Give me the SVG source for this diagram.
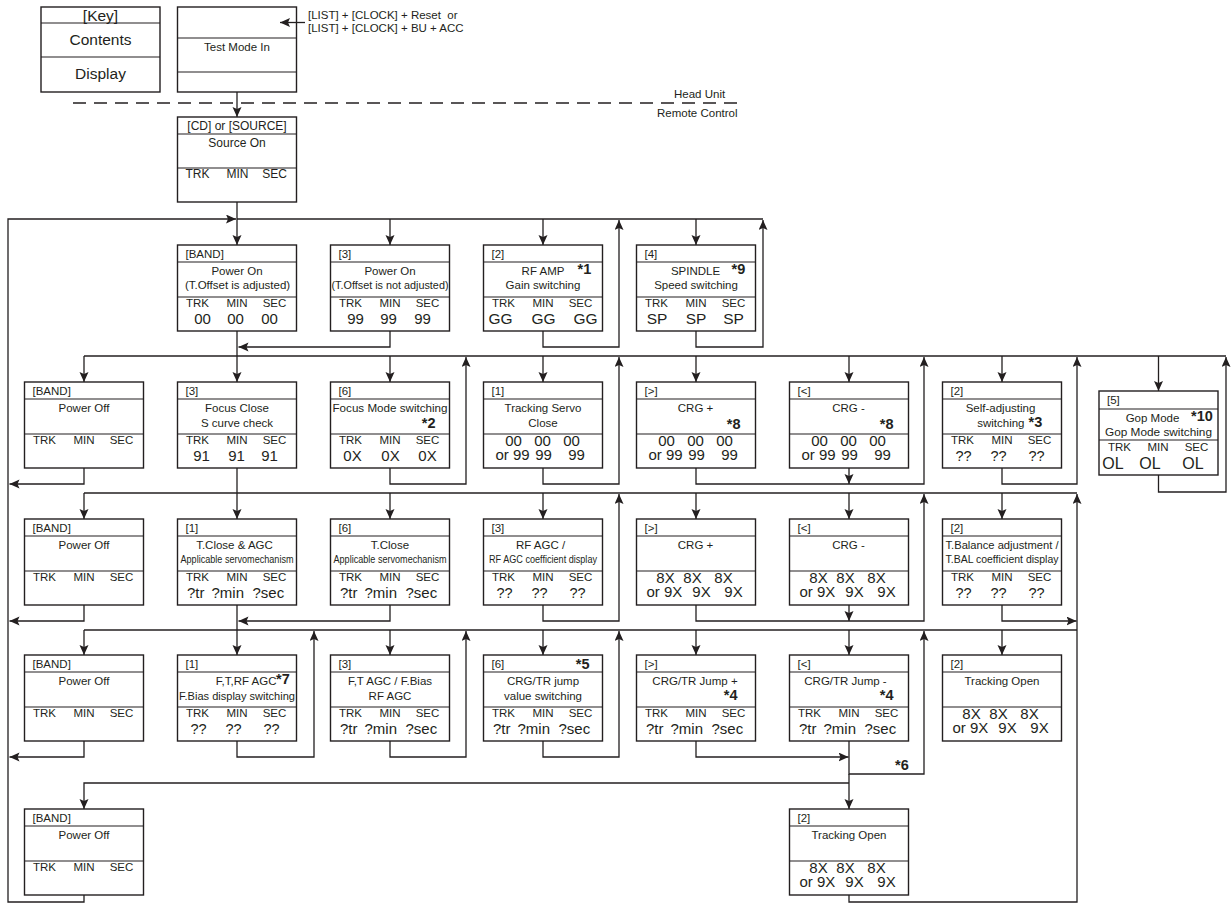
<svg xmlns="http://www.w3.org/2000/svg" xmlns:xlink="http://www.w3.org/1999/xlink" width="1231" height="903" viewBox="0 0 1231 903">
<style>
.bx{fill:#fff;stroke:#231f20;stroke-width:1.4}
.dv{stroke:#231f20;stroke-width:1.2;fill:none}
.cn path{stroke:#231f20;stroke-width:1.3;fill:none}
.cn .ar{marker-end:url(#ah)}
.dash{stroke:#231f20;stroke-width:1.3;stroke-dasharray:13 8;fill:none}
text{font-family:"Liberation Sans",Arial,Helvetica,sans-serif;fill:#231f20}
.h{font-size:11.5px}
.m{font-size:11.5px;text-anchor:middle}
.c{font-size:11px;text-anchor:middle}
.l{font-size:11.5px;text-anchor:middle}
.v{font-size:15px;text-anchor:middle}
.vs{font-size:15px}
.q{font-size:14.5px;text-anchor:middle}
.st{font-size:14.5px;font-weight:bold}
.ste{font-size:14.5px;font-weight:bold;text-anchor:end}
.k{font-size:15.5px;text-anchor:middle}
.sm{font-size:11.5px}
</style>
<defs>
<marker id="ah" markerUnits="userSpaceOnUse" markerWidth="12" markerHeight="12" refX="10" refY="4.5" orient="auto">
<path d="M0,0 L10,4.5 L0,9 L2,4.5 z" fill="#231f20"/>
</marker>
<g id="fr"><rect class="bx" x="0" y="0" width="119" height="86"/><path class="dv" d="M0,17H119M0,52H119"/></g>
<g id="tms"><text class="l" x="20" y="62">TRK</text><text class="l" x="59.5" y="62">MIN</text><text class="l" x="97" y="62">SEC</text></g>
<g id="v0099"><text class="v" x="30" y="64">00</text><text class="v" x="59" y="64">00</text><text class="v" x="88" y="64">00</text><text class="vs" x="12" y="78">or 99</text><text class="v" x="60" y="78">99</text><text class="v" x="93" y="78">99</text></g>
<g id="v89"><text class="v" x="29" y="64">8X</text><text class="v" x="56" y="64">8X</text><text class="v" x="87" y="64">8X</text><text class="vs" x="10" y="78">or 9X</text><text class="v" x="65" y="78">9X</text><text class="v" x="97" y="78">9X</text></g>
<g id="vtr"><text class="vs" x="9.5" y="79">?tr</text><text class="vs" x="34" y="79">?min</text><text class="vs" x="75" y="79">?sec</text></g>
<g id="vq"><text class="q" x="21" y="79">??</text><text class="q" x="56" y="79">??</text><text class="q" x="94" y="79">??</text></g>
</defs>
<rect x="0" y="0" width="1231" height="903" fill="#fff"/>

<path class="dash" d="M73,103H743"/>
<text class="sm" x="674" y="98">Head Unit</text>
<text class="sm" x="657" y="117">Remote Control</text>
<text class="st" x="895" y="770">*6</text>
<g id="input-keys">
<text class="sm" x="308" y="19" xml:space="preserve">[LIST] + [CLOCK] + Reset  or</text>
<text class="sm" x="308" y="31.5">[LIST] + [CLOCK] + BU + ACC</text>
</g>

<!-- key -->
<g id="key" transform="translate(41,7)">
<rect class="bx" width="119" height="85"/><path class="dv" d="M0,16H119M0,50H119"/>
<text class="k" x="59.5" y="13.5">[Key]</text>
<text class="k" x="59.5" y="38">Contents</text>
<text class="k" x="59.5" y="72">Display</text>
</g>
<g id="test-mode-in" transform="translate(177.5,7)">
<rect class="bx" width="119" height="85"/><path class="dv" d="M0,31H119M0,65H119"/>
<text class="m" x="59.5" y="44">Test Mode In</text>
</g>
<g id="source-on" transform="translate(177.5,117)">
<rect class="bx" width="119" height="85"/><path class="dv" d="M0,17H119M0,51H119"/>
<text class="m" x="59.5" y="13" style="font-size:12px">[CD] or [SOURCE]</text>
<text class="m" x="59.5" y="30" style="font-size:12px">Source On</text>
<text class="l" x="20" y="61" style="font-size:12px">TRK</text><text class="l" x="60" y="61" style="font-size:12px">MIN</text><text class="l" x="97" y="61" style="font-size:12px">SEC</text>
</g>

<!-- row 1 -->
<g id="power-on-adj" transform="translate(177.5,245)">
<use xlink:href="#fr"/><text class="h" x="8" y="13">[BAND]</text>
<text class="m" x="59.5" y="30">Power On</text><text class="m" x="60" y="44">(T.Offset is adjusted)</text>
<use xlink:href="#tms"/>
<text class="v" x="25" y="79">00</text><text class="v" x="58" y="79">00</text><text class="v" x="92" y="79">00</text>
</g>
<g id="power-on-notadj" transform="translate(330.5,245)">
<use xlink:href="#fr"/><text class="h" x="8" y="13">[3]</text>
<text class="m" x="59.5" y="30">Power On</text><text class="m" x="59.5" y="44" textLength="117" lengthAdjust="spacingAndGlyphs">(T.Offset is not adjusted)</text>
<use xlink:href="#tms"/>
<text class="v" x="25" y="79">99</text><text class="v" x="58" y="79">99</text><text class="v" x="92" y="79">99</text>
</g>
<g id="rf-amp" transform="translate(483.5,245)">
<use xlink:href="#fr"/><text class="h" x="8" y="13">[2]</text>
<text class="m" x="59.5" y="30">RF AMP</text><text class="st" x="94" y="29">*1</text>
<text class="m" x="59.5" y="44">Gain switching</text>
<use xlink:href="#tms"/>
<text class="v" x="17" y="79" style="font-size:15.5px">GG</text><text class="v" x="60" y="79" style="font-size:15.5px">GG</text><text class="v" x="102" y="79" style="font-size:15.5px">GG</text>
</g>
<g id="spindle" transform="translate(636.5,245)">
<use xlink:href="#fr"/><text class="h" x="8" y="13">[4]</text>
<text class="m" x="59" y="30">SPINDLE</text><text class="st" x="95" y="29">*9</text>
<text class="m" x="59.5" y="44">Speed switching</text>
<use xlink:href="#tms"/>
<text class="v" x="20.5" y="79" style="font-size:15.5px">SP</text><text class="v" x="59.5" y="79" style="font-size:15.5px">SP</text><text class="v" x="97" y="79" style="font-size:15.5px">SP</text>
</g>

<!-- row 2 -->
<g id="power-off-2" transform="translate(24.5,382)">
<use xlink:href="#fr"/><text class="h" x="8" y="13">[BAND]</text>
<text class="m" x="59.5" y="30">Power Off</text><use xlink:href="#tms"/>
</g>
<g id="focus-close" transform="translate(177.5,382)">
<use xlink:href="#fr"/><text class="h" x="8" y="13">[3]</text>
<text class="m" x="59.5" y="30">Focus Close</text><text class="m" x="59.5" y="45">S curve check</text>
<use xlink:href="#tms"/>
<text class="v" x="24" y="79">91</text><text class="v" x="59" y="79">91</text><text class="v" x="92" y="79">91</text>
</g>
<g id="focus-mode" transform="translate(330.5,382)">
<use xlink:href="#fr"/><text class="h" x="8" y="13">[6]</text>
<text class="m" x="59.5" y="30" textLength="115" lengthAdjust="spacingAndGlyphs">Focus Mode switching</text><text class="ste" x="105" y="46">*2</text>
<use xlink:href="#tms"/>
<text class="v" x="22" y="79">0X</text><text class="v" x="60" y="79">0X</text><text class="v" x="97" y="79">0X</text>
</g>
<g id="tracking-servo" transform="translate(483.5,382)">
<use xlink:href="#fr"/><text class="h" x="8" y="13">[1]</text>
<text class="m" x="59.5" y="30">Tracking Servo</text><text class="m" x="59.5" y="45">Close</text>
<use xlink:href="#v0099"/>
</g>
<g id="crg-plus-2" transform="translate(636.5,382)">
<use xlink:href="#fr"/><text class="h" x="8" y="13">[&gt;]</text>
<text class="m" x="59" y="30">CRG +</text><text class="ste" x="104" y="47">*8</text>
<use xlink:href="#v0099"/>
</g>
<g id="crg-minus-2" transform="translate(789.5,382)">
<use xlink:href="#fr"/><text class="h" x="8" y="13">[&lt;]</text>
<text class="m" x="59" y="30">CRG -</text><text class="ste" x="104" y="47">*8</text>
<use xlink:href="#v0099"/>
</g>
<g id="self-adjusting" transform="translate(942.5,382)">
<use xlink:href="#fr"/><text class="h" x="8" y="13">[2]</text>
<text class="m" x="58" y="30">Self-adjusting</text><text class="h" x="82" y="45" text-anchor="end">switching</text><text class="st" x="86" y="45">*3</text>
<use xlink:href="#tms"/><use xlink:href="#vq"/>
</g>
<g id="gop-mode" transform="translate(1099,391)">
<rect class="bx" width="119" height="84"/><path class="dv" d="M0,18H119M0,49H119"/>
<text class="h" x="8" y="13">[5]</text>
<text class="m" x="53.5" y="31">Gop Mode</text><text class="st" x="92" y="30">*10</text>
<text class="m" x="59.5" y="45" textLength="107" lengthAdjust="spacingAndGlyphs">Gop Mode switching</text>
<text class="l" x="20.5" y="60">TRK</text><text class="l" x="59" y="60">MIN</text><text class="l" x="97.5" y="60">SEC</text>
<text class="v" x="14" y="78" style="font-size:16px">OL</text><text class="v" x="51" y="78" style="font-size:16px">OL</text><text class="v" x="94" y="78" style="font-size:16px">OL</text>
</g>

<!-- row 3 -->
<g id="power-off-3" transform="translate(24.5,519)">
<use xlink:href="#fr"/><text class="h" x="8" y="13">[BAND]</text>
<text class="m" x="59.5" y="30">Power Off</text><use xlink:href="#tms"/>
</g>
<g id="tclose-agc" transform="translate(177.5,519)">
<use xlink:href="#fr"/><text class="h" x="8" y="13">[1]</text>
<text class="m" x="57" y="30">T.Close &amp; AGC</text><text class="c" x="59.5" y="44" textLength="113" lengthAdjust="spacingAndGlyphs">Applicable servomechanism</text>
<use xlink:href="#tms"/><use xlink:href="#vtr"/>
</g>
<g id="tclose" transform="translate(330.5,519)">
<use xlink:href="#fr"/><text class="h" x="8" y="13">[6]</text>
<text class="m" x="59.5" y="30">T.Close</text><text class="c" x="59.5" y="44" textLength="113" lengthAdjust="spacingAndGlyphs">Applicable servomechanism</text>
<use xlink:href="#tms"/><use xlink:href="#vtr"/>
</g>
<g id="rf-agc" transform="translate(483.5,519)">
<use xlink:href="#fr"/><text class="h" x="8" y="13">[3]</text>
<text class="m" x="57" y="30">RF AGC /</text><text class="c" x="59.5" y="44" textLength="108" lengthAdjust="spacingAndGlyphs">RF AGC coefficient display</text>
<use xlink:href="#tms"/><use xlink:href="#vq"/>
</g>
<g id="crg-plus-3" transform="translate(636.5,519)">
<use xlink:href="#fr"/><text class="h" x="8" y="13">[&gt;]</text>
<text class="m" x="59" y="30">CRG +</text><use xlink:href="#v89"/>
</g>
<g id="crg-minus-3" transform="translate(789.5,519)">
<use xlink:href="#fr"/><text class="h" x="8" y="13">[&lt;]</text>
<text class="m" x="59" y="30">CRG -</text><use xlink:href="#v89"/>
</g>
<g id="t-balance" transform="translate(942.5,519)">
<use xlink:href="#fr"/><text class="h" x="8" y="13">[2]</text>
<text class="m" x="59.5" y="30" textLength="113" lengthAdjust="spacingAndGlyphs">T.Balance adjustment /</text><text class="c" x="59.5" y="44" textLength="113" lengthAdjust="spacingAndGlyphs">T.BAL coefficient display</text>
<use xlink:href="#tms"/><use xlink:href="#vq"/>
</g>

<!-- row 4 -->
<g id="power-off-4" transform="translate(24.5,655)">
<use xlink:href="#fr"/><text class="h" x="8" y="13">[BAND]</text>
<text class="m" x="59.5" y="30">Power Off</text><use xlink:href="#tms"/>
</g>
<g id="ftrf-agc" transform="translate(177.5,655)">
<use xlink:href="#fr"/><text class="h" x="8" y="13">[1]</text>
<text class="h" x="99" y="30" text-anchor="end">F,T,RF AGC</text><text class="st" x="98.5" y="29">*7</text>
<text class="m" x="59.5" y="45" textLength="116" lengthAdjust="spacingAndGlyphs">F.Bias display switching</text>
<use xlink:href="#tms"/><use xlink:href="#vq"/>
</g>
<g id="ft-agc-fbias" transform="translate(330.5,655)">
<use xlink:href="#fr"/><text class="h" x="8" y="13">[3]</text>
<text class="m" x="59.5" y="30">F,T AGC / F.Bias</text><text class="m" x="59.5" y="45">RF AGC</text>
<use xlink:href="#tms"/><use xlink:href="#vtr"/>
</g>
<g id="jump-value" transform="translate(483.5,655)">
<use xlink:href="#fr"/><text class="h" x="8" y="13">[6]</text><text class="ste" x="106" y="14">*5</text>
<text class="m" x="59.5" y="30">CRG/TR jump</text><text class="m" x="59.5" y="45">value switching</text>
<use xlink:href="#tms"/><use xlink:href="#vtr"/>
</g>
<g id="jump-plus" transform="translate(636.5,655)">
<use xlink:href="#fr"/><text class="h" x="8" y="13">[&gt;]</text>
<text class="m" x="58.5" y="30">CRG/TR Jump +</text><text class="ste" x="101" y="45">*4</text>
<use xlink:href="#tms"/><use xlink:href="#vtr"/>
</g>
<g id="jump-minus" transform="translate(789.5,655)">
<use xlink:href="#fr"/><text class="h" x="8" y="13">[&lt;]</text>
<text class="m" x="56" y="30">CRG/TR Jump -</text><text class="ste" x="104" y="45">*4</text>
<use xlink:href="#tms"/><use xlink:href="#vtr"/>
</g>
<g id="tracking-open-4" transform="translate(942.5,655)">
<use xlink:href="#fr"/><text class="h" x="8" y="13">[2]</text>
<text class="m" x="59.5" y="30">Tracking Open</text><use xlink:href="#v89"/>
</g>

<!-- row 5 -->
<g id="power-off-5" transform="translate(24.5,809)">
<use xlink:href="#fr"/><text class="h" x="8" y="13">[BAND]</text>
<text class="m" x="59.5" y="30">Power Off</text><use xlink:href="#tms"/>
</g>
<g id="tracking-open-5" transform="translate(789.5,809)">
<use xlink:href="#fr"/><text class="h" x="8" y="13">[2]</text>
<text class="m" x="59.5" y="30">Tracking Open</text><use xlink:href="#v89"/>
</g>

<!-- connectors -->
<g id="connectors" class="cn">
<path class="ar" d="M305,22.5H280"/>
<path class="ar" d="M237,92V117"/>
<path class="ar" d="M237,202V245"/>
<path class="ar" d="M84,895V902H8V219H236"/>
<path d="M237,219H763"/>
<path class="ar" d="M390,219V245"/>
<path class="ar" d="M543,219V245"/>
<path class="ar" d="M696,219V245"/>
<path class="ar" d="M390,331V347H238.5"/>
<path class="ar" d="M543,331V347H619V220"/>
<path class="ar" d="M696,331V347H763V220"/>
<path d="M237,331V356"/>
<path d="M84,356H1226"/>
<path class="ar" d="M84,356V382"/>
<path class="ar" d="M237,356V382"/>
<path class="ar" d="M390,356V382"/>
<path class="ar" d="M543,356V382"/>
<path class="ar" d="M696,356V382"/>
<path class="ar" d="M849,356V382"/>
<path class="ar" d="M1002,356V382"/>
<path class="ar" d="M1158.5,356V391"/>
<path class="ar" d="M84,468V484H9.5"/>
<path d="M237,468V493"/>
<path class="ar" d="M390,468V484H466V357"/>
<path class="ar" d="M543,468V484H619V357"/>
<path class="ar" d="M696,468V484H924V357"/>
<path class="ar" d="M849,468V484"/>
<path class="ar" d="M1002,468V484H1077V357"/>
<path class="ar" d="M1158.5,475V492H1226V357"/>
<path d="M84,493H1077"/>
<path class="ar" d="M84,493V519"/>
<path class="ar" d="M237,493V519"/>
<path class="ar" d="M390,493V519"/>
<path class="ar" d="M543,493V519"/>
<path class="ar" d="M696,493V519"/>
<path class="ar" d="M849,493V519"/>
<path class="ar" d="M1002,493V519"/>
<path class="ar" d="M84,605V621H9.5"/>
<path d="M237,605V630"/>
<path class="ar" d="M390,605V621H238.5"/>
<path class="ar" d="M543,605V621H619V494"/>
<path class="ar" d="M696,605V621H924V494"/>
<path class="ar" d="M849,605V621"/>
<path class="ar" d="M1002,605V621H1076.5"/>
<path class="ar" d="M849,895V902H1077V494"/>
<path d="M84,630H1077"/>
<path class="ar" d="M84,630V655"/>
<path class="ar" d="M237,630V655"/>
<path class="ar" d="M390,630V655"/>
<path class="ar" d="M543,630V655"/>
<path class="ar" d="M696,630V655"/>
<path class="ar" d="M849,630V655"/>
<path class="ar" d="M1002,630V655"/>
<path class="ar" d="M84,741V757H9.5"/>
<path class="ar" d="M237,741V757H314V631"/>
<path class="ar" d="M390,741V757H466V631"/>
<path class="ar" d="M543,741V757H619V631"/>
<path class="ar" d="M696,741V757H848.5"/>
<path class="ar" d="M849,741V774H924V631"/>
<path class="ar" d="M849,774V809"/>
<path class="ar" d="M849,783H84V809"/>
</g>
</svg>
